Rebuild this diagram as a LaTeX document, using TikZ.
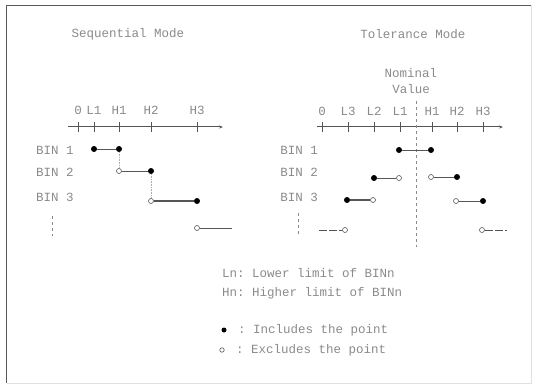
\documentclass[tikz,border=0pt]{standalone}
\usepackage{fontspec}
\setmonofont{Liberation Mono}
\usetikzlibrary{arrows.meta}
\definecolor{txtgray}{HTML}{8A8A8A}
\definecolor{linegray}{HTML}{555555}
\tikzset{
  lbl/.style={text=txtgray, font=\ttfamily\fontsize{12.5}{14}\selectfont, inner sep=0pt},
  inc/.style={circle, fill=black, inner sep=0pt, minimum size=6pt},
  exc/.style={circle, draw=linegray, fill=white, line width=0.6pt, inner sep=0pt, minimum size=5pt},
  axis/.style={linegray, line width=1pt, -{Stealth[length=4pt,width=3pt]}},
  seg/.style={linegray, line width=0.8pt},
  link/.style={txtgray!70, densely dotted, line width=0.6pt}
}
\begin{document}
\begin{tikzpicture}[x=1pt, y=-1pt]  %bin sorting modes
  \useasboundingbox (0,0) rectangle (533,385);
  \draw[black!65, line width=1.5pt] (6.5,383) -- (6.5,5.5) -- (531,5.5);
  \draw[black!12, line width=0.8pt] (531,5.5) -- (531,383) -- (6.5,383);
  % sequential mode
  \node[lbl] (seqtitle) at (128,34) {Sequential Mode};
  \coordinate (sa) at (68,127);
  \coordinate (sb) at (223,127);
  \draw[axis] (sa) -- (sb);
  \foreach \x/\t in {78/0, 94/L1, 119/H1, 151/H2, 197/H3} {
    \draw[linegray, line width=0.6pt] (\x,122) -- (\x,132);
    \node[lbl] (s\t) at (\x,110) {\t};
  }
  \node[lbl] (sbin1) at (55,150) {BIN 1};
  \node[lbl] (sbin2) at (55,172) {BIN 2};
  \node[lbl] (sbin3) at (55,197) {BIN 3};
  \node[inc] (s1l) at (94,149) {};
  \node[inc] (s1h) at (119,149) {};
  \node[exc] (s2l) at (119,171) {};
  \node[inc] (s2h) at (151,171) {};
  \node[exc] (s3l) at (151,201) {};
  \node[inc] (s3h) at (197,201) {};
  \node[exc] (s4l) at (197,228) {};
  \coordinate (s4e) at (232,228);
  \draw[seg] (s1l) -- (s1h);
  \draw[seg] (s2l) -- (s2h);
  \draw[seg, line width=1.3pt] (s3l) -- (s3h);
  \draw[seg, line width=0.6pt] (s4l) -- (s4e);
  \draw[link] (s1h) -- (s2l);
  \draw[link] (s2h) -- (s3l);
  \draw[txtgray, dashed, line width=0.6pt] (52,216) -- (52,236);
  % tolerance mode
  \node[lbl] (toltitle) at (413,34) {Tolerance Mode};
  \node[lbl] (nom) at (411,73) {Nominal};
  \node[lbl] (val) at (411,89) {Value};
  \coordinate (ta) at (317,127);
  \coordinate (tb) at (503,127);
  \draw[axis] (ta) -- (tb);
  \foreach \x/\t in {322/0, 348/L3, 374/L2, 400/L1, 432/H1, 457/H2, 483/H3} {
    \draw[linegray, line width=0.6pt] (\x,122) -- (\x,132);
    \node[lbl] (t\t) at (\x,111) {\t};
  }
  \draw[txtgray, dashed, line width=0.6pt] (416,101) -- (416,247);
  \node[lbl] (tbin1) at (299,150) {BIN 1};
  \node[lbl] (tbin2) at (299,172) {BIN 2};
  \node[lbl] (tbin3) at (299,197) {BIN 3};
  \node[inc] (t1l) at (399,150) {};
  \node[inc] (t1h) at (431,150) {};
  \node[inc] (t2ll) at (374,178) {};
  \node[exc] (t2lh) at (399,178) {};
  \node[exc] (t2hl) at (431,177) {};
  \node[inc] (t2hh) at (457,177) {};
  \node[inc] (t3ll) at (347,200) {};
  \node[exc] (t3lh) at (373,200) {};
  \node[exc] (t3hl) at (456,201) {};
  \node[inc] (t3hh) at (483,201) {};
  \node[exc] (t4l) at (345,230) {};
  \coordinate (t4ls) at (319,230);
  \node[exc] (t4h) at (482,230) {};
  \coordinate (t4he) at (507,230);
  \draw[seg] (t1l) -- (t1h);
  \draw[seg] (t2ll) -- (t2lh);
  \draw[seg] (t2hl) -- (t2hh);
  \draw[seg, line width=1.3pt] (t3ll) -- (t3lh);
  \draw[seg] (t3hl) -- (t3hh);
  \draw[seg, line width=0.6pt, dash pattern=on 8pt off 2pt] (t4ls) -- (t4l);
  \draw[seg, line width=0.6pt, dash pattern=on 8pt off 2pt] (t4h) -- (t4he);
  \draw[txtgray, dashed, line width=0.6pt] (298,213) -- (298,236);
  % legend
  \node[lbl, anchor=west] (lnote) at (222,273) {Ln: Lower limit of BINn};
  \node[lbl, anchor=west] (hnote) at (222,293) {Hn: Higher limit of BINn};
  \node[inc, minimum size=5pt] (incdot) at (224,330) {};
  \node[lbl, anchor=west] (inctext) at (238,330) {: Includes the point};
  \node[exc, minimum size=4.5pt] (excdot) at (222,350) {};
  \node[lbl, anchor=west] (exctext) at (236,350) {: Excludes the point};
\end{tikzpicture}
\end{document}
